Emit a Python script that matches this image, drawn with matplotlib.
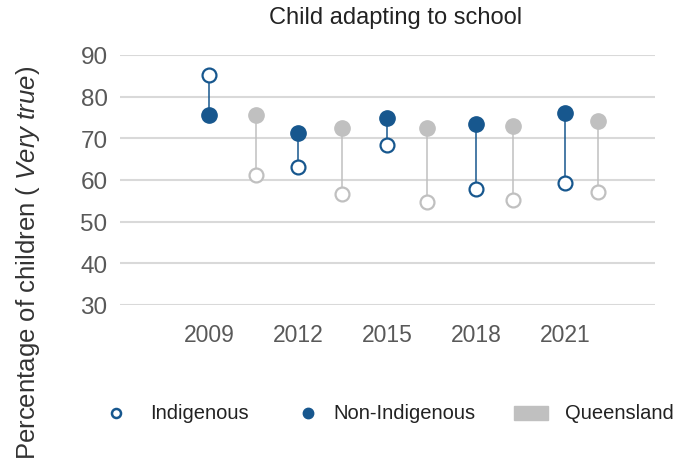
import matplotlib.pyplot as plt
from matplotlib.lines import Line2D
from matplotlib.patches import Rectangle
import numpy as np

plt.rcParams['font.family'] = ['Liberation Sans', 'DejaVu Sans']
plt.rcParams['mathtext.fontset'] = 'custom'
plt.rcParams['mathtext.it'] = 'Liberation Sans:italic'
plt.rcParams['mathtext.rm'] = 'Liberation Sans'

# data
years = ['2009', '2012', '2015', '2018', '2021']
indigenous = [85.2, 63.1, 68.4, 57.9, 59.4]
non_indigenous = [75.7, 71.3, 74.8, 73.4, 76.0]
qld_indigenous = [61.2, 56.7, 54.6, 55.3, 57.2]
qld_non_indigenous = [75.5, 72.6, 72.4, 73.0, 74.2]
legend_labels = ['Indigenous', 'Non-Indigenous', 'Queensland']

blue = '#17578e'
gray = '#c0c0c0'
grid_col = '#d9d9d9'
text_col = '#595959'

W, H = 677, 464
fig = plt.figure(figsize=(W / 100, H / 100), dpi=100)
ax = fig.add_axes([120 / W, 1 - 306 / H, 535 / W, 250 / H])

x = np.arange(len(years))
qld_x = x + np.linspace(0.53, 0.37, len(years))

for i in range(len(years)):
    ax.plot([x[i], x[i]], [indigenous[i], non_indigenous[i]], color=blue, lw=1.1, zorder=2)
    ax.plot([qld_x[i], qld_x[i]], [qld_indigenous[i], qld_non_indigenous[i]], color=gray, lw=1.1, zorder=2)

ax.plot(qld_x, qld_non_indigenous, 'o', ms=11, color=gray, mec=gray, ls='none', zorder=3)
ax.plot(qld_x, qld_indigenous, 'o', ms=10, mfc='white', mec=gray, mew=1.6, ls='none', zorder=3)
ax.plot(x, non_indigenous, 'o', ms=11, color=blue, mec=blue, ls='none', zorder=3)
ax.plot(x, indigenous, 'o', ms=10, mfc='white', mec=blue, mew=1.6, ls='none', zorder=3)

ax.set_xlim(-1, 5.01)
ax.set_ylim(30, 90)
ax.set_yticks(range(30, 91, 10))
ax.set_xticks(x)
ax.set_xticklabels(years, fontsize=16.5, color=text_col)
ax.tick_params(axis='y', labelsize=17.5, labelcolor=text_col, length=0, pad=9)
ax.tick_params(axis='x', length=0, pad=13)
ax.yaxis.grid(True, color=grid_col, lw=1.5)
ax.set_axisbelow(True)
for s in ax.spines.values():
    s.set_visible(False)

fig.text(396 / W, 1 - 18 / H, 'Child adapting to school', ha='center', va='center',
         fontsize=17, color='#222222')
fig.text(28 / W, 1 - 263 / H, r'Percentage of children ( $\it{Very\ true}$)', rotation=90,
         ha='center', va='center', fontsize=18.5, color='#333333')

# legend drawn by hand
ly = 1 - 414 / H
fig.add_artist(Line2D([116 / W], [ly], marker='o', ls='none', ms=6.5, mfc='white',
                      mec=blue, mew=1.8, transform=fig.transFigure))
fig.add_artist(Line2D([308 / W], [ly], marker='o', ls='none', ms=7.5, color=blue,
                      transform=fig.transFigure))
fig.add_artist(Rectangle((514 / W, 1 - 421 / H), 34 / W, 14 / H, color=gray,
                         transform=fig.transFigure))
for tx, label in zip([150, 333, 565], legend_labels):
    fig.text(tx / W, ly, label, ha='left', va='center', fontsize=14.5, color='#222222')

fig.savefig('out.png', dpi=100)
